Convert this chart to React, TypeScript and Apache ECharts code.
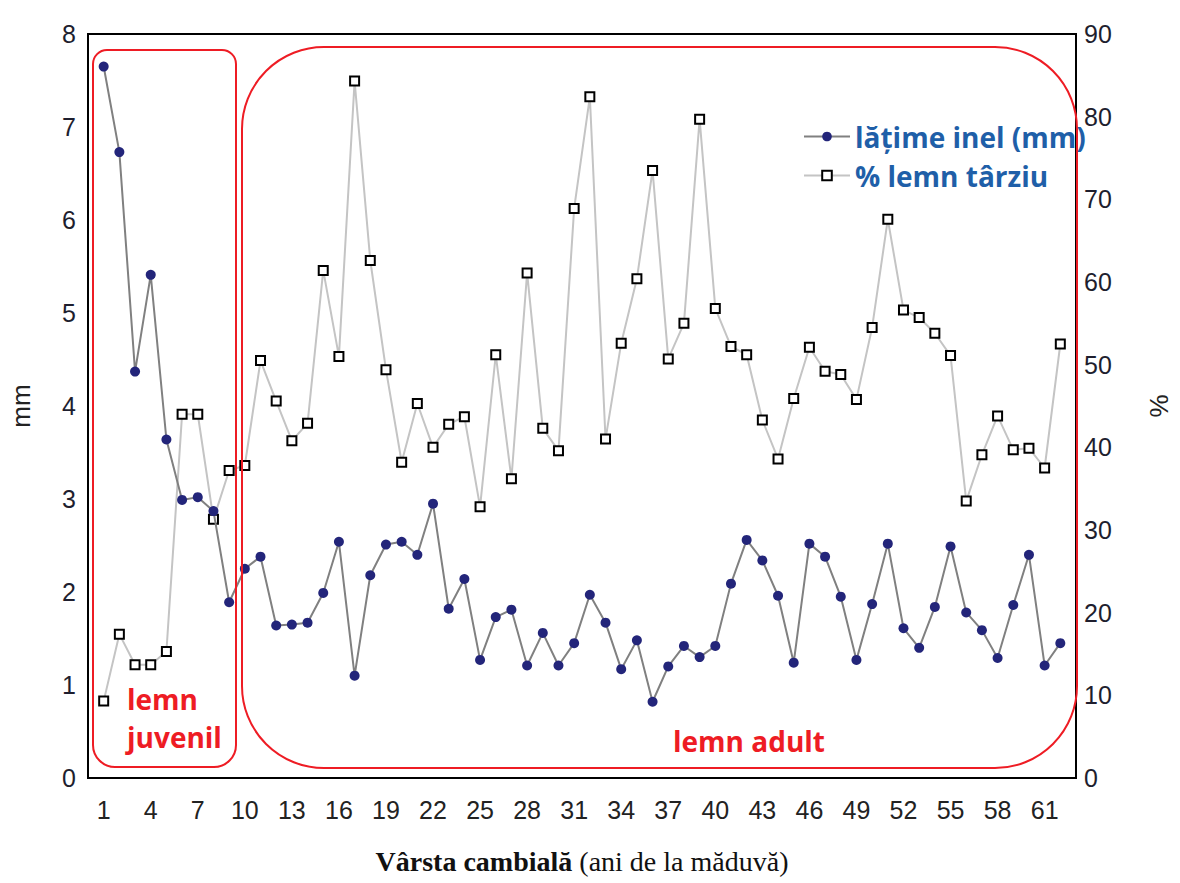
import React, { useEffect, useRef } from "react";
import * as echarts from "echarts";

// Cambial age (years from pith)
const ringAges = [
  1, 2, 3, 4, 5, 6, 7, 8, 9, 10, 11, 12, 13, 14, 15, 16, 17, 18, 19, 20, 21,
  22, 23, 24, 25, 26, 27, 28, 29, 30, 31, 32, 33, 34, 35, 36, 37, 38, 39, 40,
  41, 42, 43, 44, 45, 46, 47, 48, 49, 50, 51, 52, 53, 54, 55, 56, 57, 58, 59,
  60, 61, 62,
];
const tickAges = [1, 4, 7, 10, 13, 16, 19, 22, 25, 28, 31, 34, 37, 40, 43, 46, 49, 52, 55, 58, 61];

// ring width (mm)
const ringWidthMm = [
  7.65, 6.73, 4.37, 5.41, 3.64, 2.99, 3.02, 2.87, 1.89, 2.25,
  2.38, 1.64, 1.65, 1.67, 1.99, 2.54, 1.1, 2.18, 2.51, 2.54,
  2.4, 2.95, 1.82, 2.14, 1.27, 1.73, 1.81, 1.21, 1.56, 1.21,
  1.45, 1.97, 1.67, 1.17, 1.48, 0.82, 1.2, 1.42, 1.3, 1.42,
  2.09, 2.56, 2.34, 1.96, 1.24, 2.52, 2.38, 1.95, 1.27, 1.87,
  2.52, 1.61, 1.4, 1.84, 2.49, 1.78, 1.59, 1.29, 1.86, 2.4,
  1.21, 1.45,
];

// latewood percentage
const latewoodPct = [
  9.3, 17.4, 13.7, 13.7, 15.3, 44.0, 44.0, 31.3, 37.2, 37.8,
  50.5, 45.6, 40.8, 42.9, 61.4, 51.0, 84.3, 62.6, 49.4, 38.2,
  45.3, 40.0, 42.8, 43.7, 32.8, 51.2, 36.2, 61.1, 42.3, 39.6,
  68.9, 82.4, 41.0, 52.6, 60.4, 73.5, 50.7, 55.0, 79.7, 56.8,
  52.2, 51.2, 43.3, 38.6, 45.9, 52.1, 49.2, 48.8, 45.8, 54.5,
  67.6, 56.6, 55.7, 53.8, 51.1, 33.5, 39.1, 43.8, 39.7, 39.9,
  37.5, 52.5,
];

const seriesNames = ["lățime inel (mm)", "% lemn târziu"];
const zoneLabels = ["lemn\njuvenil", "lemn adult"];
const axisNames = ["mm", "%"];
const xTitleBold = "Vârsta cambială";
const xTitleRest = "(ani de la măduvă)";

export default function App() {
  const ref = useRef<HTMLDivElement>(null);

  useEffect(() => {
    const chart = echarts.init(ref.current!, null, { renderer: "svg" });
    const red = "#ee1c24";
    const labelFont = "'Liberation Sans', Arial, sans-serif";
    const calFont = "'Open Sans', 'Noto Sans', sans-serif";
    const serif = "'Liberation Serif', 'Times New Roman', serif";

    chart.setOption({
      animation: false,
      backgroundColor: "#ffffff",
      grid: {
        left: 87,
        right: 98,
        top: 34,
        bottom: 105,
        show: true,
        borderColor: "#000",
        borderWidth: 2,
        backgroundColor: "transparent",
      },
      legend: {
        orient: "vertical",
        left: 798,
        top: 116,
        itemWidth: 46,
        itemHeight: 12,
        itemGap: 8,
        data: [seriesNames[0], seriesNames[1]],
        textStyle: {
          color: "#1f5fa8",
          fontFamily: calFont,
          fontWeight: "bold",
          fontSize: 28,
          lineHeight: 31,
        },
      },
      xAxis: {
        type: "value",
        min: 0,
        max: 63,
        interval: 1,
        axisLine: { show: false },
        axisTick: { show: false },
        splitLine: { show: false },
        axisLabel: {
          margin: 19,
          fontSize: 25,
          color: "#222",
          fontFamily: labelFont,
          showMinLabel: false,
          showMaxLabel: false,
          hideOverlap: false,
          formatter: (v: number) => (tickAges.indexOf(v) >= 0 ? String(v) : ""),
        },
        name: `{b|${xTitleBold}}{r| ${xTitleRest}}`,
        nameLocation: "middle",
        nameGap: 69,
        nameTextStyle: {
          rich: {
            b: { fontFamily: serif, fontWeight: "bold", fontSize: 28, color: "#111" },
            r: { fontFamily: serif, fontSize: 28, color: "#111" },
          },
        },
      },
      yAxis: [
        {
          type: "value",
          min: 0,
          max: 8,
          interval: 1,
          position: "left",
          axisLine: { show: false },
          axisTick: { show: false },
          splitLine: { show: false },
          axisLabel: { margin: 12, fontSize: 25, color: "#1e1e2e", fontFamily: labelFont },
          name: axisNames[0],
          nameLocation: "middle",
          nameGap: 54,
          nameTextStyle: { fontSize: 26, color: "#222", fontFamily: labelFont },
        },
        {
          type: "value",
          min: 0,
          max: 90,
          interval: 10,
          position: "right",
          axisLine: { show: false },
          axisTick: { show: false },
          splitLine: { show: false },
          axisLabel: { margin: 8, fontSize: 25, color: "#1e1e2e", fontFamily: labelFont },
          name: axisNames[1],
          nameLocation: "middle",
          nameGap: 70,
          nameTextStyle: { fontSize: 26, color: "#222", fontFamily: labelFont },
        },
      ],
      series: [
        {
          name: seriesNames[1],
          type: "line",
          yAxisIndex: 1,
          data: ringAges.map((a, i) => [a, latewoodPct[i]]),
          symbol: "rect",
          symbolSize: 9,
          itemStyle: { color: "#ffffff", borderColor: "#000", borderWidth: 2 },
          lineStyle: { color: "#c4c4c4", width: 2 },
          z: 2,
        },
        {
          name: seriesNames[0],
          type: "line",
          yAxisIndex: 0,
          data: ringAges.map((a, i) => [a, ringWidthMm[i]]),
          symbol: "circle",
          symbolSize: 10,
          itemStyle: { color: "#23257a" },
          lineStyle: { color: "#808080", width: 2 },
          z: 3,
        },
      ],
      graphic: [
        {
          type: "rect",
          shape: { x: 93, y: 50, width: 143, height: 717, r: [14, 14, 22, 22] },
          style: { fill: "none", stroke: red, lineWidth: 2 },
          z: 10,
        },
        {
          type: "rect",
          shape: { x: 242, y: 47, width: 835, height: 721, r: 82 },
          style: { fill: "none", stroke: red, lineWidth: 2 },
          z: 10,
        },
        {
          type: "text",
          x: 127,
          y: 680,
          style: {
            text: zoneLabels[0],
            fill: red,
            fontFamily: calFont,
            fontWeight: "bold",
            fontSize: 28,
            lineHeight: 38,
            verticalAlign: "top",
          },
          z: 10,
        },
        {
          type: "text",
          x: 673,
          y: 741,
          style: {
            text: zoneLabels[1],
            fill: red,
            fontFamily: calFont,
            fontWeight: "bold",
            fontSize: 28,
            verticalAlign: "middle",
          },
          z: 10,
        },
      ],
    });

    return () => chart.dispose();
  }, []);

  return (
    <div
      ref={ref}
      style={{ position: "absolute", left: 0, top: 0, width: 1180, height: 883, background: "#fff" }}
    />
  );
}
